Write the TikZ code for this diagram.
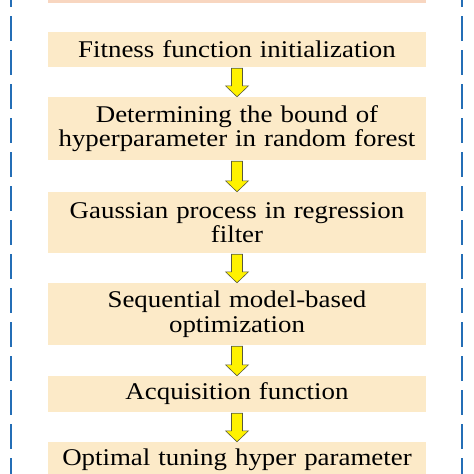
\documentclass[tikz,border=0pt]{standalone}
\usepackage{fontspec}
\setmainfont{Liberation Serif}[FakeStretch=1.12]
\usetikzlibrary{calc}
\definecolor{stepfill}{RGB}{252,234,200}
\definecolor{topfill}{RGB}{248,214,192}
\definecolor{frameblue}{RGB}{36,110,182}
\definecolor{arrowline}{RGB}{90,90,60}
\tikzset{
	stepbox/.style={fill=stepfill, minimum width=378pt, text width=370pt, align=center, inner sep=0pt, font=\fontsize{24}{24.5}\selectfont},
	framedash/.style={line width=2.6pt, color=frameblue, dash pattern=on 25pt off 9pt, dash phase=18pt},
	blockarrow/.style={fill=yellow, draw=arrowline, line width=0.6pt, line join=miter,
		to path={let \p1=(\tikztostart), \p2=(\tikztotarget) in
			(\x1-5.5pt,\y1) -- (\x1+5.5pt,\y1) -- (\x1+5.5pt,\y2+11pt) -- (\x1+11.5pt,\y2+11pt)
			-- (\x1,\y2) -- (\x1-11.5pt,\y2+11pt) -- (\x1-5.5pt,\y2+11pt) -- cycle}}
}
\begin{document}
\begin{tikzpicture}[x=1pt, y=1pt]
		%%%%% START %%%%%
		\useasboundingbox (0, 0) rectangle (474, -474);
		\clip (0, 0) rectangle (474, -474);
		
		\fill[topfill] (48, 10) rectangle (426, -3);
		
		\draw[framedash] (11, 0) -- (11, -474);
		\draw[framedash] (462, 0) -- (462, -474);
		
		\node[stepbox, minimum height=35pt] (init) at (237, -49.5) {Fitness function initialization};
		\node[stepbox, minimum height=63pt] (bound) at (237, -128.5) {Determining the bound of\\hyperparameter in random forest};
		\node[stepbox, minimum height=61pt] (gauss) at (237, -222.5) {Gaussian process in regression\\filter};
		\node[stepbox, minimum height=62pt] (smbo) at (237, -314) {Sequential model-based\\optimization};
		\node[stepbox, minimum height=36pt] (acq) at (237, -394) {Acquisition function};
		\node[stepbox, minimum height=35pt] (tune) at (237, -459.5) {Optimal tuning hyper parameter};
		
		\draw[blockarrow] ($(init.south)+(0,-1)$) to (bound.north);
		\draw[blockarrow] ($(bound.south)+(0,-1)$) to (gauss.north);
		\draw[blockarrow] ($(gauss.south)+(0,-1)$) to (smbo.north);
		\draw[blockarrow] ($(smbo.south)+(0,-1)$) to (acq.north);
		\draw[blockarrow] ($(acq.south)+(0,-1)$) to (tune.north);
		
		%%%%% END %%%%%
	\end{tikzpicture}
\end{document}
